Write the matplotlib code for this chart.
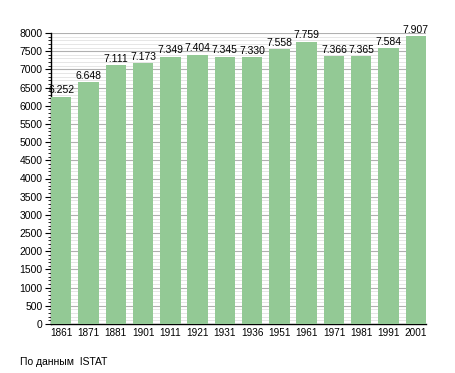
import matplotlib
matplotlib.use("Agg")
import matplotlib.pyplot as plt
from matplotlib.ticker import MultipleLocator

years = ["1861", "1871", "1881", "1901", "1911", "1921", "1931", "1936",
         "1951", "1961", "1971", "1981", "1991", "2001"]
population = [6252, 6648, 7111, 7173, 7349, 7404, 7345, 7330,
              7558, 7759, 7366, 7365, 7584, 7907]

plt.rcParams['font.family'] = ['Liberation Sans', 'DejaVu Sans']

fig = plt.figure(figsize=(4.55, 3.73), dpi=100)
ax = fig.add_axes([51/455, 1 - 324/373, 375/455, 291/373])

w = 0.75
x = list(range(len(years)))
ax.bar(x, population, width=w, color='#93c995', zorder=3)
for xi, v in zip(x, population):
    ax.text(xi, v + 40, f"{v/1000:.3f}", ha='center', va='bottom', fontsize=7.5, zorder=4)

ax.set_xlim(-w/2, len(years) - 1 + w/2)
ax.set_ylim(0, 8000)
ax.yaxis.set_major_locator(MultipleLocator(500))
ax.yaxis.set_minor_locator(MultipleLocator(100))
ax.grid(axis='y', which='major', color='#b0b0b0', linewidth=0.8, zorder=0)
ax.grid(axis='y', which='minor', color='#e2e2e2', linewidth=0.6, zorder=0)
ax.set_xticks(x)
ax.set_xticklabels(years)
ax.tick_params(axis='x', length=0, labelsize=7.2, pad=3)
ax.tick_params(axis='y', which='major', length=4, width=0.8, labelsize=7.5, pad=2)
ax.tick_params(axis='y', which='minor', length=2, width=0.6)
for s in ['top', 'right']:
    ax.spines[s].set_visible(False)
ax.spines['left'].set_linewidth(1.0)
ax.spines['bottom'].set_linewidth(1.0)

fig.text(20/455, 1 - 362/373, "По данным  ISTAT", fontsize=7.5, va='center', ha='left')

fig.savefig("out.png", dpi=100)
